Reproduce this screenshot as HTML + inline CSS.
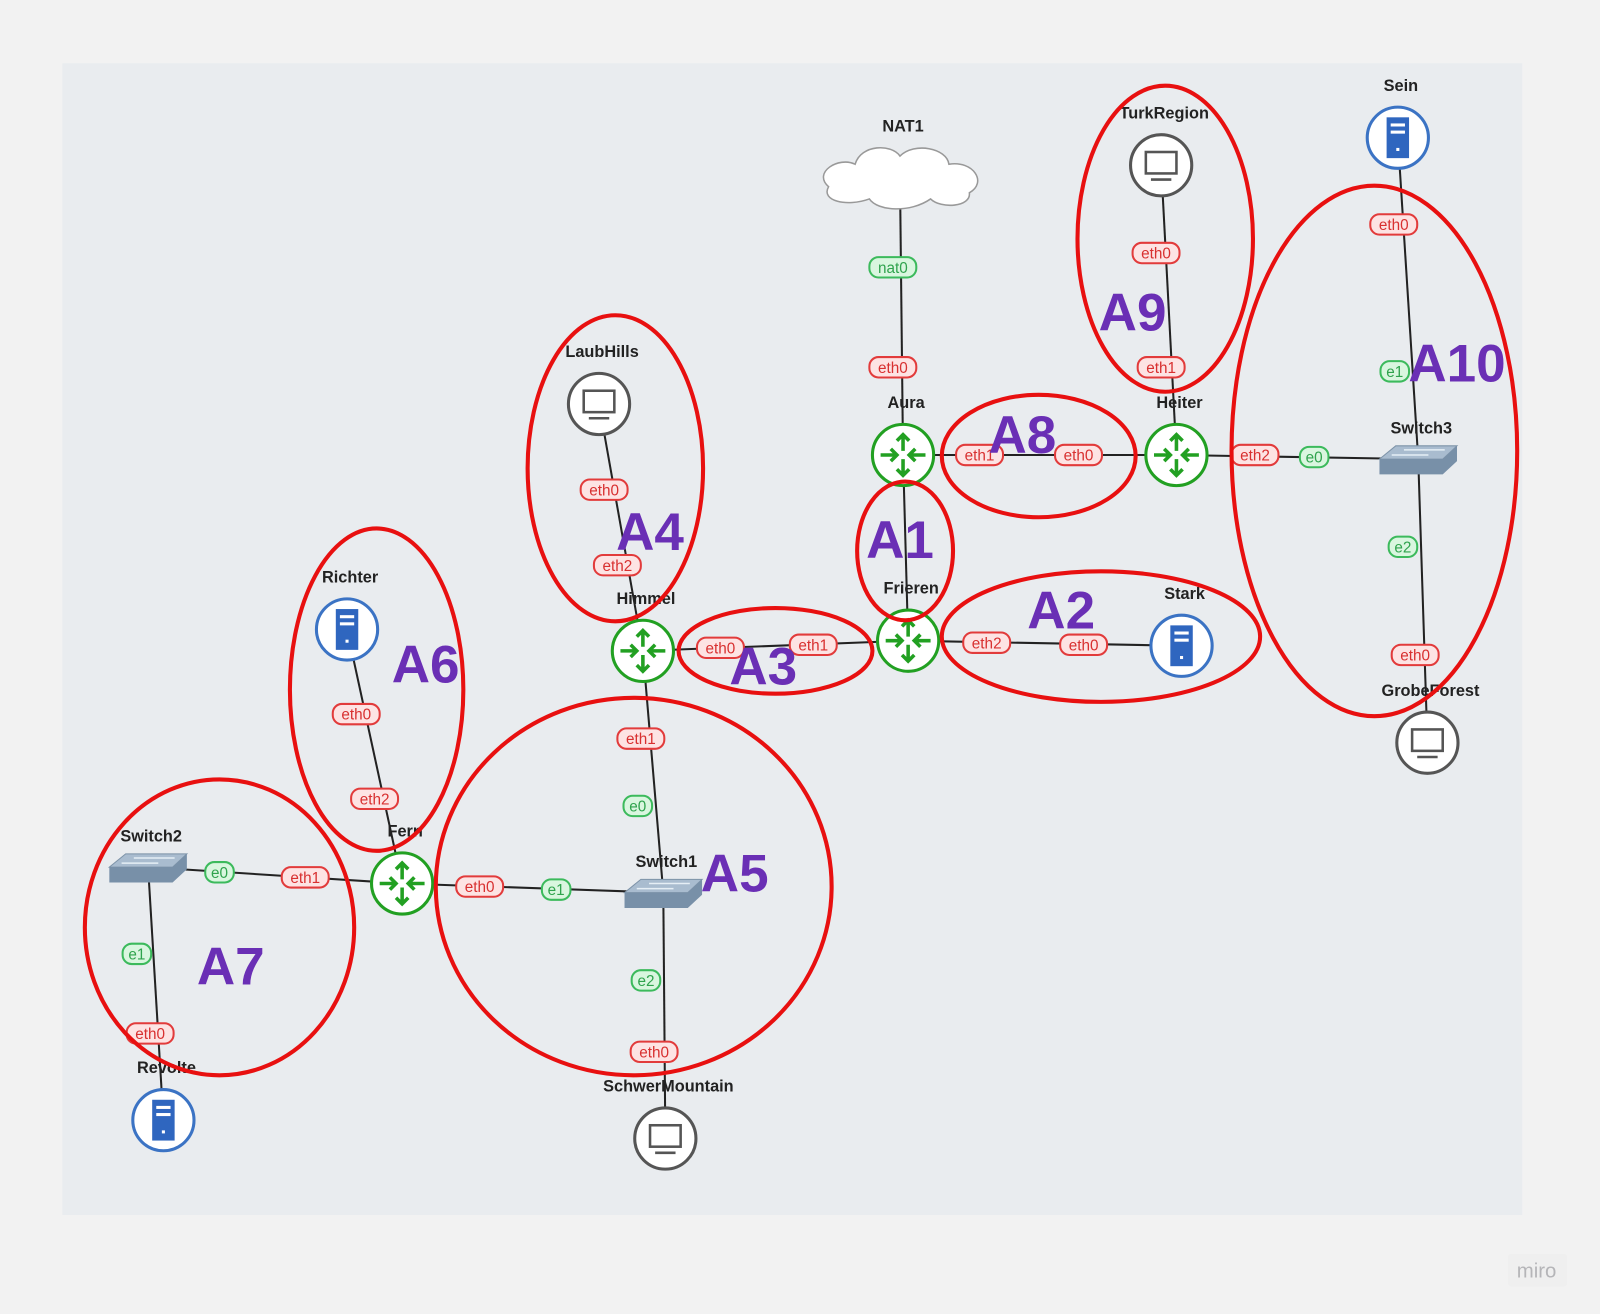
<!DOCTYPE html>
<html><head><meta charset="utf-8"><style>
html,body{margin:0;padding:0;background:#f2f2f2;}
svg{display:block;}
text{font-family:"Liberation Sans",sans-serif;}
</style></head><body>
<svg id="s" width="1600" height="1314" viewBox="0 0 1568 1288">
<rect x="0" y="0" width="1568" height="1288" fill="#f2f2f2"/>
<rect x="61" y="62" width="1431" height="1129" fill="#e9ecef"/>
<g id="links"></g><g id="nodes"></g><g id="pills"></g><g id="areas"></g>
<rect x="1478" y="1229" width="58" height="32" rx="3" fill="#efefef"/>
<text x="1506" y="1252" text-anchor="middle" font-size="20" fill="#b5b5b8">miro</text>
</svg>
<script>
const NS="http://www.w3.org/2000/svg";
function mk(t,a,p){const e=document.createElementNS(NS,t);for(const k in a)e.setAttribute(k,a[k]);p.appendChild(e);return e;}
const nodes={
NAT1:["cloud",882,175],Aura:["router",885,446],Frieren:["router",890,628],Heiter:["router",1153,446],
Himmel:["router",630,638],Fern:["router",394,866],Stark:["server",1158,633],Sein:["server",1370,135],
Richter:["server",340,617],Revolte:["server",160,1098],TurkRegion:["pc",1138,162],LaubHills:["pc",587,396],
SchwerMountain:["pc",652,1116],GrobeForest:["pc",1399,728],Switch1:["switch",650,875],Switch2:["switch",145,850],Switch3:["switch",1390,450]};
const links=[["NAT1","Aura"],["Aura","Heiter"],["Aura","Frieren"],["Heiter","TurkRegion"],["Heiter","Switch3"],["Switch3","Sein"],["Switch3","GrobeForest"],["Frieren","Stark"],["Frieren","Himmel"],["Himmel","LaubHills"],["Himmel","Switch1"],["Switch1","Fern"],["Switch1","SchwerMountain"],["Fern","Richter"],["Fern","Switch2"],["Switch2","Revolte"]];
const pills=[["nat0",875,262,0],["eth0",875,360,1],["eth1",960,446,1],["eth0",1057,446,1],["eth1",1138,360,1],["eth0",1133,248,1],["eth2",1230,446,1],["e0",1288,448,0],["e1",1367,364,0],["eth0",1366,220,1],["e2",1375,536,0],["eth0",1387,642,1],["eth2",967,630,1],["eth0",1062,632,1],["eth1",797,632,1],["eth0",706,635,1],["eth2",605,554,1],["eth0",592,480,1],["eth1",628,724,1],["e0",625,790,0],["e1",545,872,0],["eth0",470,869,1],["e2",633,961,0],["eth0",641,1031,1],["eth2",367,783,1],["eth0",349,700,1],["eth1",299,860,1],["e0",215,855,0],["e1",134,935,0],["eth0",147,1013,1]];
const areas=[["A9",1142,234,86,150,1110,305],["A10",1347,442,140,260,1428,355],["A8",1018,447,95,60,1002,425],["A1",887,540,47,68,882,528],["A2",1079,624,156,64,1040,597],["A3",760,638,95,42,748,652],["A4",603,459,86,150,637,520],["A6",369,676,85,158,417,650],["A5",621,869,194,185,720,855],["A7",215,909,132,145,226,946]];
const L=document.getElementById('links'),N=document.getElementById('nodes'),P=document.getElementById('pills'),A=document.getElementById('areas');
links.forEach(([a,b])=>{const l=mk('line',{x1:nodes[a][1],y1:nodes[a][2],x2:nodes[b][1],y2:nodes[b][2],stroke:'#222','stroke-width':2},L);

});
for(const n in nodes){const [t,x,y]=nodes[n];const g=mk('g',{},N);


let ly=y-46;
if(t==='router'){mk('circle',{cx:x,cy:y,r:30,fill:'#fff',stroke:'#22a022','stroke-width':3},g);
const ar=(d)=>mk('path',{d:d,fill:'none',stroke:'#22a022','stroke-width':3.5},g);
ar(`M${x} ${y-4}V${y-20}M${x-6} ${y-14}L${x} ${y-20}L${x+6} ${y-14}`);
ar(`M${x} ${y+4}V${y+20}M${x-6} ${y+14}L${x} ${y+20}L${x+6} ${y+14}`);
ar(`M${x-22} ${y}H${x-6}M${x-12} ${y-6}L${x-6} ${y}L${x-12} ${y+6}`);
ar(`M${x+22} ${y}H${x+6}M${x+12} ${y-6}L${x+6} ${y}L${x+12} ${y+6}`);}
else if(t==='server'){mk('circle',{cx:x,cy:y,r:30,fill:'#fff',stroke:'#3b73c4','stroke-width':3},g);
mk('rect',{x:x-11,y:y-20,width:22,height:40,fill:'#2f66bf'},g);
mk('rect',{x:x-7,y:y-14,width:14,height:3,fill:'#fff'},g);mk('rect',{x:x-7,y:y-7,width:14,height:3,fill:'#fff'},g);
mk('rect',{x:x-1.5,y:y+10,width:3,height:3,fill:'#fff'},g);}
else if(t==='pc'){mk('circle',{cx:x,cy:y,r:30,fill:'#fff',stroke:'#555','stroke-width':3},g);
mk('rect',{x:x-15,y:y-13,width:30,height:21,fill:'none',stroke:'#555','stroke-width':2.5},g);
mk('path',{d:`M${x-10} ${y+14}H${x+10}`,stroke:'#555','stroke-width':2.5},g);}
else if(t==='switch'){mk('path',{d:`M${x-38} ${y}L${x-22} ${y-13}H${x+38}L${x+24} ${y}Z`,fill:'#a9bccf',stroke:'#7d93a8'},g);
mk('path',{d:`M${x-38} ${y}H${x+24}L${x+38} ${y-13}V${y+2}L${x+24} ${y+15}H${x-38}Z`,fill:'#7890a8'},g);
mk('path',{d:`M${x-26} ${y-4}H${x+10}M${x-14} ${y-9}H${x+26}`,stroke:'#e5eef5','stroke-width':1.5},g);ly=y-25;}
else {mk('path',{d:`M${x-70} ${y+8}C${x-86} ${y-6},${x-60} ${y-22},${x-44} ${y-14}C${x-38} ${y-34},${x-8} ${y-34},${x} ${y-22}C${x+14} ${y-36},${x+46} ${y-30},${x+48} ${y-14}C${x+72} ${y-18},${x+86} ${y+4},${x+68} ${y+14}C${x+70} ${y+28},${x+40} ${y+30},${x+30} ${y+20}C${x+10} ${y+34},${x-22} ${y+32},${x-30} ${y+20}C${x-52} ${y+28},${x-78} ${y+22},${x-70} ${y+8}Z`,fill:'#fff',stroke:'#999','stroke-width':1.5},g);ly=y-46;}
const tx=mk('text',{x:x+3,y:ly,'text-anchor':'middle','font-size':16,'font-weight':'bold',fill:'#222'},g);tx.textContent=n;}
pills.forEach(([t,x,y,r])=>{const g=mk('g',{},P);


const w=t.length*9+10;
mk('rect',{x:x-w/2,y:y-10,width:w,height:20,rx:9,fill:r?'#fde3e3':'#d9f6df',stroke:r?'#e23b3b':'#3cba5c','stroke-width':2},g);
const tx=mk('text',{x:x,y:y+5.5,'text-anchor':'middle','font-size':15,fill:r?'#d83030':'#2fa34d'},g);tx.textContent=t;});
areas.forEach(([t,cx,cy,rx,ry,lx,ly])=>{const e=mk('ellipse',{cx:cx,cy:cy,rx:rx,ry:ry,fill:'none',stroke:'#e81010','stroke-width':4},A);


const tx=mk('text',{x:lx,y:ly+19,'text-anchor':'middle','font-size':52,'font-weight':'bold',fill:'#6a2fb5'},A);


tx.textContent=t;});
</script>
</body></html>
